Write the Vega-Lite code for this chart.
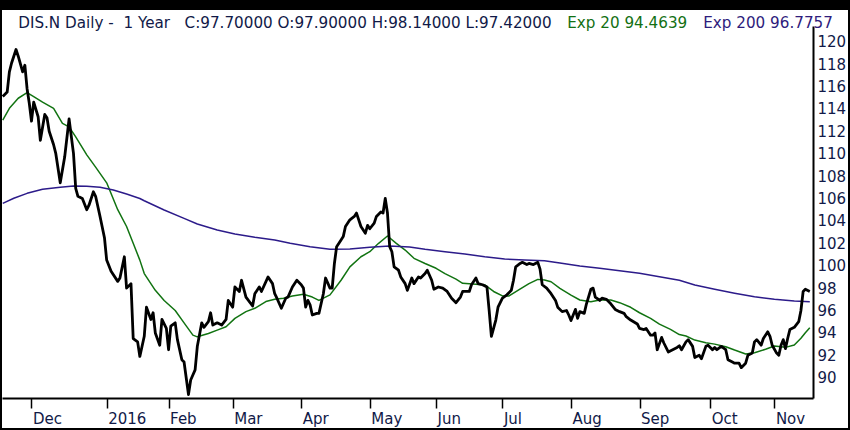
{
  "$schema": "https://vega.github.io/schema/vega-lite/v6.json",
  "width": 846,
  "height": 418,
  "autosize": "none",
  "padding": {"left": 2, "top": 10, "right": 2, "bottom": 2},
  "background": "black",
  "datasets": {
    "price": [
      {"date": "2015-11-18", "value": 115.1},
      {"date": "2015-11-20", "value": 115.5},
      {"date": "2015-11-21", "value": 117.3},
      {"date": "2015-11-22", "value": 118.1},
      {"date": "2015-11-24", "value": 119.3},
      {"date": "2015-11-25", "value": 118.7},
      {"date": "2015-11-27", "value": 117.3},
      {"date": "2015-11-28", "value": 117.9},
      {"date": "2015-11-29", "value": 115.8},
      {"date": "2015-11-30", "value": 114.5},
      {"date": "2015-12-01", "value": 112.9},
      {"date": "2015-12-02", "value": 114.6},
      {"date": "2015-12-04", "value": 113.3},
      {"date": "2015-12-05", "value": 111.2},
      {"date": "2015-12-07", "value": 113.5},
      {"date": "2015-12-08", "value": 113.2},
      {"date": "2015-12-09", "value": 112.0},
      {"date": "2015-12-11", "value": 110.8},
      {"date": "2015-12-12", "value": 110.0},
      {"date": "2015-12-14", "value": 107.4},
      {"date": "2015-12-16", "value": 109.7},
      {"date": "2015-12-18", "value": 113.1},
      {"date": "2015-12-20", "value": 110.0},
      {"date": "2015-12-21", "value": 106.9},
      {"date": "2015-12-22", "value": 106.2},
      {"date": "2015-12-24", "value": 106.0},
      {"date": "2015-12-26", "value": 105.0},
      {"date": "2015-12-27", "value": 105.4},
      {"date": "2015-12-29", "value": 106.6},
      {"date": "2015-12-30", "value": 106.2},
      {"date": "2016-01-01", "value": 104.4},
      {"date": "2016-01-03", "value": 102.5},
      {"date": "2016-01-04", "value": 100.5},
      {"date": "2016-01-06", "value": 99.5},
      {"date": "2016-01-09", "value": 98.6},
      {"date": "2016-01-10", "value": 98.9},
      {"date": "2016-01-12", "value": 100.8},
      {"date": "2016-01-13", "value": 98.0},
      {"date": "2016-01-15", "value": 98.4},
      {"date": "2016-01-16", "value": 93.5},
      {"date": "2016-01-18", "value": 93.2},
      {"date": "2016-01-19", "value": 91.9},
      {"date": "2016-01-21", "value": 93.7},
      {"date": "2016-01-22", "value": 96.3},
      {"date": "2016-01-24", "value": 95.2},
      {"date": "2016-01-25", "value": 95.8},
      {"date": "2016-01-26", "value": 94.0},
      {"date": "2016-01-28", "value": 92.9},
      {"date": "2016-01-29", "value": 95.2},
      {"date": "2016-01-31", "value": 94.4},
      {"date": "2016-02-01", "value": 92.5},
      {"date": "2016-02-02", "value": 94.6},
      {"date": "2016-02-04", "value": 94.9},
      {"date": "2016-02-05", "value": 93.4},
      {"date": "2016-02-07", "value": 91.6},
      {"date": "2016-02-08", "value": 91.4},
      {"date": "2016-02-10", "value": 88.5},
      {"date": "2016-02-11", "value": 89.8},
      {"date": "2016-02-13", "value": 90.7},
      {"date": "2016-02-14", "value": 92.8},
      {"date": "2016-02-16", "value": 94.9},
      {"date": "2016-02-17", "value": 94.5},
      {"date": "2016-02-19", "value": 95.0},
      {"date": "2016-02-20", "value": 95.8},
      {"date": "2016-02-21", "value": 94.7},
      {"date": "2016-02-23", "value": 94.9},
      {"date": "2016-02-25", "value": 94.7},
      {"date": "2016-02-27", "value": 95.2},
      {"date": "2016-02-28", "value": 96.9},
      {"date": "2016-03-01", "value": 96.3},
      {"date": "2016-03-02", "value": 98.1},
      {"date": "2016-03-04", "value": 97.7},
      {"date": "2016-03-05", "value": 98.7},
      {"date": "2016-03-07", "value": 97.2},
      {"date": "2016-03-10", "value": 96.4},
      {"date": "2016-03-11", "value": 97.5},
      {"date": "2016-03-13", "value": 98.1},
      {"date": "2016-03-14", "value": 97.7},
      {"date": "2016-03-17", "value": 99.0},
      {"date": "2016-03-19", "value": 98.4},
      {"date": "2016-03-20", "value": 97.5},
      {"date": "2016-03-21", "value": 97.1},
      {"date": "2016-03-23", "value": 96.2},
      {"date": "2016-03-25", "value": 97.1},
      {"date": "2016-03-26", "value": 97.2},
      {"date": "2016-03-28", "value": 98.1},
      {"date": "2016-03-30", "value": 98.7},
      {"date": "2016-04-01", "value": 98.3},
      {"date": "2016-04-02", "value": 98.0},
      {"date": "2016-04-03", "value": 96.3},
      {"date": "2016-04-04", "value": 96.9},
      {"date": "2016-04-05", "value": 96.5},
      {"date": "2016-04-06", "value": 95.6},
      {"date": "2016-04-08", "value": 95.75},
      {"date": "2016-04-09", "value": 95.75},
      {"date": "2016-04-11", "value": 97.5},
      {"date": "2016-04-12", "value": 98.9},
      {"date": "2016-04-14", "value": 98.0},
      {"date": "2016-04-15", "value": 98.0},
      {"date": "2016-04-16", "value": 100.2},
      {"date": "2016-04-17", "value": 101.7},
      {"date": "2016-04-19", "value": 102.3},
      {"date": "2016-04-20", "value": 102.6},
      {"date": "2016-04-21", "value": 103.5},
      {"date": "2016-04-23", "value": 104.1},
      {"date": "2016-04-25", "value": 104.4},
      {"date": "2016-04-26", "value": 104.7},
      {"date": "2016-04-28", "value": 103.5},
      {"date": "2016-04-30", "value": 102.9},
      {"date": "2016-05-01", "value": 103.6},
      {"date": "2016-05-02", "value": 103.3},
      {"date": "2016-05-04", "value": 103.8},
      {"date": "2016-05-05", "value": 104.4},
      {"date": "2016-05-07", "value": 104.8},
      {"date": "2016-05-08", "value": 104.7},
      {"date": "2016-05-09", "value": 106.0},
      {"date": "2016-05-10", "value": 104.7},
      {"date": "2016-05-11", "value": 101.7},
      {"date": "2016-05-12", "value": 101.25},
      {"date": "2016-05-13", "value": 99.9},
      {"date": "2016-05-15", "value": 99.6},
      {"date": "2016-05-16", "value": 99.0},
      {"date": "2016-05-18", "value": 98.4},
      {"date": "2016-05-19", "value": 97.8},
      {"date": "2016-05-21", "value": 98.9},
      {"date": "2016-05-22", "value": 98.4},
      {"date": "2016-05-24", "value": 99.0},
      {"date": "2016-05-25", "value": 98.9},
      {"date": "2016-05-27", "value": 99.3},
      {"date": "2016-05-28", "value": 99.6},
      {"date": "2016-05-30", "value": 98.7},
      {"date": "2016-05-31", "value": 97.9},
      {"date": "2016-06-02", "value": 98.1},
      {"date": "2016-06-04", "value": 98.0},
      {"date": "2016-06-06", "value": 97.7},
      {"date": "2016-06-08", "value": 97.1},
      {"date": "2016-06-10", "value": 96.7},
      {"date": "2016-06-12", "value": 97.2},
      {"date": "2016-06-13", "value": 97.7},
      {"date": "2016-06-16", "value": 97.7},
      {"date": "2016-06-17", "value": 98.3},
      {"date": "2016-06-19", "value": 98.9},
      {"date": "2016-06-20", "value": 98.4},
      {"date": "2016-06-22", "value": 98.3},
      {"date": "2016-06-24", "value": 98.1},
      {"date": "2016-06-25", "value": 96.0},
      {"date": "2016-06-26", "value": 93.7},
      {"date": "2016-06-28", "value": 95.15},
      {"date": "2016-06-29", "value": 96.3},
      {"date": "2016-07-01", "value": 97.1},
      {"date": "2016-07-03", "value": 97.4},
      {"date": "2016-07-05", "value": 97.8},
      {"date": "2016-07-06", "value": 98.7},
      {"date": "2016-07-07", "value": 99.9},
      {"date": "2016-07-09", "value": 100.2},
      {"date": "2016-07-10", "value": 100.3},
      {"date": "2016-07-12", "value": 100.1},
      {"date": "2016-07-13", "value": 100.2},
      {"date": "2016-07-15", "value": 100.1},
      {"date": "2016-07-17", "value": 100.3},
      {"date": "2016-07-18", "value": 99.7},
      {"date": "2016-07-19", "value": 98.3},
      {"date": "2016-07-21", "value": 98.0},
      {"date": "2016-07-23", "value": 97.5},
      {"date": "2016-07-25", "value": 96.9},
      {"date": "2016-07-26", "value": 96.3},
      {"date": "2016-07-28", "value": 95.9},
      {"date": "2016-07-30", "value": 96.0},
      {"date": "2016-07-31", "value": 95.6},
      {"date": "2016-08-01", "value": 95.1},
      {"date": "2016-08-03", "value": 96.1},
      {"date": "2016-08-04", "value": 95.3},
      {"date": "2016-08-05", "value": 95.9},
      {"date": "2016-08-07", "value": 95.75},
      {"date": "2016-08-08", "value": 96.6},
      {"date": "2016-08-10", "value": 97.9},
      {"date": "2016-08-11", "value": 98.0},
      {"date": "2016-08-12", "value": 97.2},
      {"date": "2016-08-14", "value": 96.9},
      {"date": "2016-08-15", "value": 97.1},
      {"date": "2016-08-17", "value": 97.0},
      {"date": "2016-08-19", "value": 96.6},
      {"date": "2016-08-21", "value": 96.1},
      {"date": "2016-08-23", "value": 95.9},
      {"date": "2016-08-25", "value": 95.75},
      {"date": "2016-08-26", "value": 95.45},
      {"date": "2016-08-28", "value": 95.15},
      {"date": "2016-08-31", "value": 94.8},
      {"date": "2016-09-01", "value": 94.4},
      {"date": "2016-09-03", "value": 94.3},
      {"date": "2016-09-04", "value": 94.4},
      {"date": "2016-09-06", "value": 93.8},
      {"date": "2016-09-07", "value": 93.8},
      {"date": "2016-09-08", "value": 94.0},
      {"date": "2016-09-09", "value": 92.5},
      {"date": "2016-09-11", "value": 93.6},
      {"date": "2016-09-12", "value": 93.1},
      {"date": "2016-09-14", "value": 92.3},
      {"date": "2016-09-16", "value": 92.5},
      {"date": "2016-09-18", "value": 92.7},
      {"date": "2016-09-19", "value": 92.85},
      {"date": "2016-09-20", "value": 92.5},
      {"date": "2016-09-22", "value": 93.2},
      {"date": "2016-09-23", "value": 93.4},
      {"date": "2016-09-25", "value": 92.8},
      {"date": "2016-09-26", "value": 91.8},
      {"date": "2016-09-28", "value": 92.0},
      {"date": "2016-09-29", "value": 91.7},
      {"date": "2016-10-01", "value": 92.8},
      {"date": "2016-10-02", "value": 92.9},
      {"date": "2016-10-04", "value": 92.5},
      {"date": "2016-10-05", "value": 92.7},
      {"date": "2016-10-06", "value": 92.5},
      {"date": "2016-10-08", "value": 92.8},
      {"date": "2016-10-10", "value": 92.5},
      {"date": "2016-10-11", "value": 91.6},
      {"date": "2016-10-13", "value": 91.4},
      {"date": "2016-10-14", "value": 91.3},
      {"date": "2016-10-16", "value": 91.3},
      {"date": "2016-10-17", "value": 90.9},
      {"date": "2016-10-19", "value": 91.3},
      {"date": "2016-10-20", "value": 92.0},
      {"date": "2016-10-22", "value": 92.2},
      {"date": "2016-10-23", "value": 93.2},
      {"date": "2016-10-24", "value": 93.4},
      {"date": "2016-10-26", "value": 92.9},
      {"date": "2016-10-27", "value": 93.5},
      {"date": "2016-10-29", "value": 94.1},
      {"date": "2016-10-30", "value": 93.7},
      {"date": "2016-10-31", "value": 92.9},
      {"date": "2016-11-02", "value": 92.2},
      {"date": "2016-11-03", "value": 92.0},
      {"date": "2016-11-04", "value": 92.9},
      {"date": "2016-11-05", "value": 93.4},
      {"date": "2016-11-06", "value": 92.6},
      {"date": "2016-11-07", "value": 93.5},
      {"date": "2016-11-08", "value": 94.3},
      {"date": "2016-11-10", "value": 94.5},
      {"date": "2016-11-12", "value": 95.0},
      {"date": "2016-11-13", "value": 96.0},
      {"date": "2016-11-14", "value": 97.7},
      {"date": "2016-11-15", "value": 97.9},
      {"date": "2016-11-17", "value": 97.7}
    ],
    "averages": [
      {"date": "2015-11-18", "series": "Exp 20", "value": 113.0},
      {"date": "2015-11-21", "series": "Exp 20", "value": 114.05},
      {"date": "2015-11-25", "series": "Exp 20", "value": 114.95},
      {"date": "2015-11-29", "series": "Exp 20", "value": 115.45},
      {"date": "2015-12-02", "series": "Exp 20", "value": 115.1},
      {"date": "2015-12-06", "series": "Exp 20", "value": 114.6},
      {"date": "2015-12-11", "series": "Exp 20", "value": 114.05},
      {"date": "2015-12-15", "series": "Exp 20", "value": 112.7},
      {"date": "2015-12-18", "series": "Exp 20", "value": 112.4},
      {"date": "2015-12-21", "series": "Exp 20", "value": 111.5},
      {"date": "2015-12-26", "series": "Exp 20", "value": 109.9},
      {"date": "2015-12-30", "series": "Exp 20", "value": 108.8},
      {"date": "2016-01-04", "series": "Exp 20", "value": 107.4},
      {"date": "2016-01-09", "series": "Exp 20", "value": 105.0},
      {"date": "2016-01-13", "series": "Exp 20", "value": 103.5},
      {"date": "2016-01-16", "series": "Exp 20", "value": 102.0},
      {"date": "2016-01-19", "series": "Exp 20", "value": 100.5},
      {"date": "2016-01-21", "series": "Exp 20", "value": 99.3},
      {"date": "2016-01-26", "series": "Exp 20", "value": 97.8},
      {"date": "2016-01-30", "series": "Exp 20", "value": 96.9},
      {"date": "2016-02-04", "series": "Exp 20", "value": 96.0},
      {"date": "2016-02-08", "series": "Exp 20", "value": 94.9},
      {"date": "2016-02-12", "series": "Exp 20", "value": 93.8},
      {"date": "2016-02-14", "series": "Exp 20", "value": 93.65},
      {"date": "2016-02-19", "series": "Exp 20", "value": 93.95},
      {"date": "2016-02-23", "series": "Exp 20", "value": 94.25},
      {"date": "2016-02-27", "series": "Exp 20", "value": 94.55},
      {"date": "2016-03-02", "series": "Exp 20", "value": 95.3},
      {"date": "2016-03-07", "series": "Exp 20", "value": 95.9},
      {"date": "2016-03-11", "series": "Exp 20", "value": 96.2},
      {"date": "2016-03-16", "series": "Exp 20", "value": 96.8},
      {"date": "2016-03-20", "series": "Exp 20", "value": 97.0},
      {"date": "2016-03-24", "series": "Exp 20", "value": 97.1},
      {"date": "2016-03-28", "series": "Exp 20", "value": 97.3},
      {"date": "2016-04-02", "series": "Exp 20", "value": 97.45},
      {"date": "2016-04-06", "series": "Exp 20", "value": 97.2},
      {"date": "2016-04-09", "series": "Exp 20", "value": 96.9},
      {"date": "2016-04-14", "series": "Exp 20", "value": 97.4},
      {"date": "2016-04-19", "series": "Exp 20", "value": 98.7},
      {"date": "2016-04-23", "series": "Exp 20", "value": 99.9},
      {"date": "2016-04-28", "series": "Exp 20", "value": 100.8},
      {"date": "2016-05-02", "series": "Exp 20", "value": 101.25},
      {"date": "2016-05-06", "series": "Exp 20", "value": 102.0},
      {"date": "2016-05-10", "series": "Exp 20", "value": 102.65},
      {"date": "2016-05-14", "series": "Exp 20", "value": 102.0},
      {"date": "2016-05-18", "series": "Exp 20", "value": 101.4},
      {"date": "2016-05-22", "series": "Exp 20", "value": 100.66},
      {"date": "2016-05-27", "series": "Exp 20", "value": 100.2},
      {"date": "2016-06-01", "series": "Exp 20", "value": 99.77},
      {"date": "2016-06-05", "series": "Exp 20", "value": 99.3},
      {"date": "2016-06-10", "series": "Exp 20", "value": 98.8},
      {"date": "2016-06-13", "series": "Exp 20", "value": 98.43},
      {"date": "2016-06-19", "series": "Exp 20", "value": 98.34},
      {"date": "2016-06-23", "series": "Exp 20", "value": 98.28},
      {"date": "2016-06-27", "series": "Exp 20", "value": 97.7},
      {"date": "2016-07-01", "series": "Exp 20", "value": 97.3},
      {"date": "2016-07-04", "series": "Exp 20", "value": 97.3},
      {"date": "2016-07-08", "series": "Exp 20", "value": 97.8},
      {"date": "2016-07-13", "series": "Exp 20", "value": 98.4},
      {"date": "2016-07-17", "series": "Exp 20", "value": 98.78},
      {"date": "2016-07-20", "series": "Exp 20", "value": 98.72},
      {"date": "2016-07-23", "series": "Exp 20", "value": 98.57},
      {"date": "2016-07-27", "series": "Exp 20", "value": 97.98},
      {"date": "2016-08-01", "series": "Exp 20", "value": 97.38},
      {"date": "2016-08-05", "series": "Exp 20", "value": 96.94},
      {"date": "2016-08-10", "series": "Exp 20", "value": 96.79},
      {"date": "2016-08-14", "series": "Exp 20", "value": 96.94},
      {"date": "2016-08-19", "series": "Exp 20", "value": 96.94},
      {"date": "2016-08-23", "series": "Exp 20", "value": 96.7},
      {"date": "2016-08-28", "series": "Exp 20", "value": 96.29},
      {"date": "2016-09-01", "series": "Exp 20", "value": 95.8},
      {"date": "2016-09-06", "series": "Exp 20", "value": 95.3},
      {"date": "2016-09-10", "series": "Exp 20", "value": 94.79},
      {"date": "2016-09-15", "series": "Exp 20", "value": 94.32},
      {"date": "2016-09-19", "series": "Exp 20", "value": 93.85},
      {"date": "2016-09-22", "series": "Exp 20", "value": 93.72},
      {"date": "2016-09-26", "series": "Exp 20", "value": 93.36},
      {"date": "2016-10-01", "series": "Exp 20", "value": 93.13},
      {"date": "2016-10-05", "series": "Exp 20", "value": 93.0},
      {"date": "2016-10-10", "series": "Exp 20", "value": 92.77},
      {"date": "2016-10-14", "series": "Exp 20", "value": 92.47},
      {"date": "2016-10-19", "series": "Exp 20", "value": 92.12},
      {"date": "2016-10-23", "series": "Exp 20", "value": 92.23},
      {"date": "2016-10-28", "series": "Exp 20", "value": 92.54},
      {"date": "2016-11-01", "series": "Exp 20", "value": 92.83},
      {"date": "2016-11-06", "series": "Exp 20", "value": 92.71},
      {"date": "2016-11-10", "series": "Exp 20", "value": 92.92},
      {"date": "2016-11-13", "series": "Exp 20", "value": 93.52},
      {"date": "2016-11-15", "series": "Exp 20", "value": 94.02},
      {"date": "2016-11-17", "series": "Exp 20", "value": 94.46},
      {"date": "2015-11-18", "series": "Exp 200", "value": 105.57},
      {"date": "2015-11-23", "series": "Exp 200", "value": 106.02},
      {"date": "2015-11-29", "series": "Exp 200", "value": 106.46},
      {"date": "2015-12-06", "series": "Exp 200", "value": 106.82},
      {"date": "2015-12-14", "series": "Exp 200", "value": 107.0},
      {"date": "2015-12-20", "series": "Exp 200", "value": 107.12},
      {"date": "2015-12-26", "series": "Exp 200", "value": 107.09},
      {"date": "2016-01-01", "series": "Exp 200", "value": 107.0},
      {"date": "2016-01-07", "series": "Exp 200", "value": 106.76},
      {"date": "2016-01-13", "series": "Exp 200", "value": 106.4},
      {"date": "2016-01-19", "series": "Exp 200", "value": 106.0},
      {"date": "2016-01-21", "series": "Exp 200", "value": 105.8},
      {"date": "2016-01-30", "series": "Exp 200", "value": 104.97},
      {"date": "2016-02-08", "series": "Exp 200", "value": 104.23},
      {"date": "2016-02-14", "series": "Exp 200", "value": 103.72},
      {"date": "2016-02-23", "series": "Exp 200", "value": 103.19},
      {"date": "2016-03-02", "series": "Exp 200", "value": 102.83},
      {"date": "2016-03-11", "series": "Exp 200", "value": 102.54},
      {"date": "2016-03-20", "series": "Exp 200", "value": 102.3},
      {"date": "2016-03-27", "series": "Exp 200", "value": 102.0},
      {"date": "2016-04-05", "series": "Exp 200", "value": 101.7},
      {"date": "2016-04-14", "series": "Exp 200", "value": 101.46},
      {"date": "2016-04-23", "series": "Exp 200", "value": 101.49},
      {"date": "2016-05-02", "series": "Exp 200", "value": 101.64},
      {"date": "2016-05-11", "series": "Exp 200", "value": 101.76},
      {"date": "2016-05-20", "series": "Exp 200", "value": 101.66},
      {"date": "2016-05-27", "series": "Exp 200", "value": 101.46},
      {"date": "2016-06-05", "series": "Exp 200", "value": 101.25},
      {"date": "2016-06-14", "series": "Exp 200", "value": 101.04},
      {"date": "2016-06-23", "series": "Exp 200", "value": 100.8},
      {"date": "2016-07-02", "series": "Exp 200", "value": 100.6},
      {"date": "2016-07-11", "series": "Exp 200", "value": 100.51},
      {"date": "2016-07-20", "series": "Exp 200", "value": 100.45},
      {"date": "2016-07-27", "series": "Exp 200", "value": 100.25},
      {"date": "2016-08-05", "series": "Exp 200", "value": 99.97},
      {"date": "2016-08-14", "series": "Exp 200", "value": 99.77},
      {"date": "2016-08-23", "series": "Exp 200", "value": 99.55},
      {"date": "2016-09-01", "series": "Exp 200", "value": 99.32},
      {"date": "2016-09-10", "series": "Exp 200", "value": 99.02},
      {"date": "2016-09-19", "series": "Exp 200", "value": 98.7},
      {"date": "2016-09-26", "series": "Exp 200", "value": 98.28},
      {"date": "2016-10-05", "series": "Exp 200", "value": 97.89},
      {"date": "2016-10-14", "series": "Exp 200", "value": 97.54},
      {"date": "2016-10-23", "series": "Exp 200", "value": 97.23},
      {"date": "2016-11-01", "series": "Exp 200", "value": 97.0},
      {"date": "2016-11-10", "series": "Exp 200", "value": 96.85},
      {"date": "2016-11-17", "series": "Exp 200", "value": 96.78}
    ]
  },
  "encoding": {
    "x": {
      "field": "date",
      "type": "temporal",
      "scale": {
        "type": "utc",
        "domain": [
          {"year": 2015, "month": 11, "date": 17, "hours": 15, "minutes": 50, "utc": true},
          {"year": 2016, "month": 11, "date": 18, "hours": 11, "utc": true}
        ],
        "range": [0, 811]
      },
      "axis": {
        "orient": "bottom",
        "offset": -30,
        "title": null,
        "grid": false,
        "values": [
          {"year": 2015, "month": 12, "date": 1, "utc": true},
          {"year": 2016, "month": 1, "date": 4, "utc": true},
          {"year": 2016, "month": 2, "date": 1, "utc": true},
          {"year": 2016, "month": 3, "date": 1, "utc": true},
          {"year": 2016, "month": 4, "date": 1, "utc": true},
          {"year": 2016, "month": 5, "date": 2, "utc": true},
          {"year": 2016, "month": 6, "date": 1, "utc": true},
          {"year": 2016, "month": 7, "date": 1, "utc": true},
          {"year": 2016, "month": 8, "date": 1, "utc": true},
          {"year": 2016, "month": 9, "date": 1, "utc": true},
          {"year": 2016, "month": 10, "date": 3, "utc": true},
          {"year": 2016, "month": 11, "date": 1, "utc": true}
        ],
        "format": "%b",
        "labelExpr": "datum.label == 'Jan' ? '2016' : datum.label",
        "domainColor": "black",
        "domainWidth": 2,
        "tickColor": "black",
        "tickWidth": 1.5,
        "tickSize": 10,
        "labelAlign": "left",
        "labelBaseline": "top",
        "labelPadding": 3,
        "labelOffset": 1,
        "labelFont": "DejaVu Sans",
        "labelFontSize": 15,
        "labelColor": "#111a48",
        "labelOverlap": false,
        "labelFlush": false,
        "labelBound": false
      }
    },
    "y": {
      "field": "value",
      "type": "quantitative",
      "scale": {"domain": [88.19, 121.4], "range": [388, 16], "zero": false, "nice": false},
      "axis": {
        "orient": "right",
        "offset": -35,
        "title": null,
        "grid": false,
        "ticks": false,
        "values": [90, 92, 94, 96, 98, 100, 102, 104, 106, 108, 110, 112, 114, 116, 118, 120],
        "domainColor": "black",
        "domainWidth": 2,
        "labelAlign": "left",
        "labelBaseline": "middle",
        "labelPadding": 4,
        "labelFont": "DejaVu Sans",
        "labelFontSize": 15,
        "labelColor": "#111a48",
        "labelOverlap": false,
        "labelFlush": false,
        "labelBound": false
      }
    }
  },
  "layer": [
    {
      "data": {"name": "averages"},
      "mark": {"type": "line", "strokeWidth": 1.5, "strokeJoin": "round"},
      "encoding": {
        "color": {
          "field": "series",
          "type": "nominal",
          "scale": {
            "domain": ["DIS.N", "Exp 20", "Exp 200"],
            "range": ["#111a48", "#117311", "#2c1b8a"]
          },
          "legend": {
            "orient": "none",
            "legendX": 1,
            "legendY": 5,
            "direction": "horizontal",
            "title": null,
            "padding": 0,
            "symbolType": "circle",
            "symbolSize": 0.01,
            "symbolOpacity": 0,
            "symbolStrokeWidth": 0.01,
            "labelOffset": 0.01,
            "columnPadding": 0,
            "labelFont": "DejaVu Sans",
            "labelFontSize": 15.2,
            "labelLimit": 800,
            "labelExpr": "datum.label == 'DIS.N' ? 'DIS.N Daily -\u00a0 1 Year\u00a0\u00a0 C:97.70000 O:97.90000 H:98.14000 L:97.42000' : datum.label == 'Exp 20' ? 'Exp 20 94.4639' : 'Exp 200 96.7757'",
            "labelColor": {"expr": "datum.value == 'DIS.N' ? '#111a48' : datum.value == 'Exp 20' ? '#137013' : '#2e1c7c'"}
          }
        }
      }
    },
    {
      "data": {"name": "price"},
      "mark": {"type": "line", "color": "black", "strokeWidth": 2.8, "strokeJoin": "round"}
    }
  ],
  "config": {
    "view": {"fill": "white", "stroke": null},
    "font": "DejaVu Sans"
  }
}
